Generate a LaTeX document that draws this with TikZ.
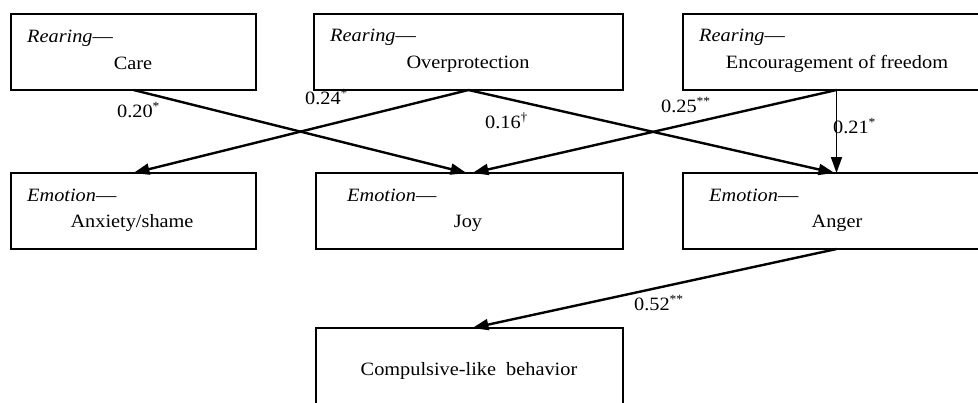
\documentclass[tikz,border=0pt]{standalone}
\usepackage{fontspec}
\setmainfont{Liberation Serif}[FakeStretch=1.08]
\usetikzlibrary{arrows.meta}
\tikzset{
  x=1pt, y=-1pt,
  box/.style={draw=black, line width=2.1pt, inner sep=0pt, outer sep=0pt},
  conn/.style={line width=2.4pt, -{Triangle[length=16pt,width=11pt]}},
  lbl/.style={inner sep=0pt, anchor=base west, font=\fontsize{18.8}{22}\selectfont},
  itlabel/.style={inner sep=0pt, anchor=base west, font=\fontsize{18.8}{22}\selectfont\itshape},
  maintext/.style={inner sep=0pt, anchor=base, font=\fontsize{18.8}{22}\selectfont},
}
\newcommand{\sig}[1]{\textsuperscript{\fontsize{12.5}{13}\selectfont #1}}
\begin{document}
\begin{tikzpicture}
\useasboundingbox (0,0) rectangle (978,402);
\clip (0,0) rectangle (978,402);
\fill[white] (0,0) rectangle (978,402);
% boxes
\node[box, minimum width=245pt, minimum height=76pt] (care) at (133.5,52) {};
\node[box, minimum width=309pt, minimum height=76pt] (over) at (468.5,52) {};
\node[box, minimum width=307pt, minimum height=76pt] (enc) at (836.5,52) {};
\node[box, minimum width=245pt, minimum height=76pt] (anx) at (133.5,211) {};
\node[box, minimum width=307pt, minimum height=76pt] (joy) at (469.5,211) {};
\node[box, minimum width=307pt, minimum height=76pt] (ang) at (836.5,211) {};
\node[box, minimum width=307pt, minimum height=92pt] (comp) at (469.5,374) {};
% texts
\node[itlabel] (t1) at (27,42) {Rearing\upshape—};
\node[maintext] (t1b) at (133,69) {Care};
\node[itlabel] (t2) at (330,41) {Rearing\upshape—};
\node[maintext] (t2b) at (468,68) {Overprotection};
\node[itlabel] (t3) at (699,41) {Rearing\upshape—};
\node[maintext] (t3b) at (837,68) {Encouragement of freedom};
\node[itlabel] (t4) at (27,201) {Emotion\upshape—};
\node[maintext] (t4b) at (132,227) {Anxiety/shame};
\node[itlabel] (t5) at (347,201) {Emotion\upshape—};
\node[maintext] (t5b) at (468,227) {Joy};
\node[itlabel] (t6) at (709,201) {Emotion\upshape—};
\node[maintext] (t6b) at (837,227) {Anger};
\node[maintext] (t7) at (469,375) {Compulsive-like\ \ behavior};
% connectors
\draw[conn] (care.south) -- ([xshift=-3pt]joy.north);
\draw[conn] (over.south) -- (anx.north);
\draw[conn] (over.south) -- ([xshift=-2pt]ang.north);
\draw[conn] (enc.south) -- ([xshift=3pt]joy.north);
\draw[conn, line width=1.7pt] (enc.south) -- (ang.north);
\draw[conn] (ang.south) -- ([xshift=3pt]comp.north);
% labels
\node[lbl] (l1) at (117,117) {0.20\sig{*}};
\node[lbl] (l2) at (305,104) {0.24\sig{*}};
\node[lbl] (l3) at (485,128) {0.16\sig{†}};
\node[lbl] (l4) at (661,112) {0.25\sig{**}};
\node[lbl] (l5) at (833,133) {0.21\sig{*}};
\node[lbl] (l6) at (634,310) {0.52\sig{**}};
\end{tikzpicture}
\end{document}
